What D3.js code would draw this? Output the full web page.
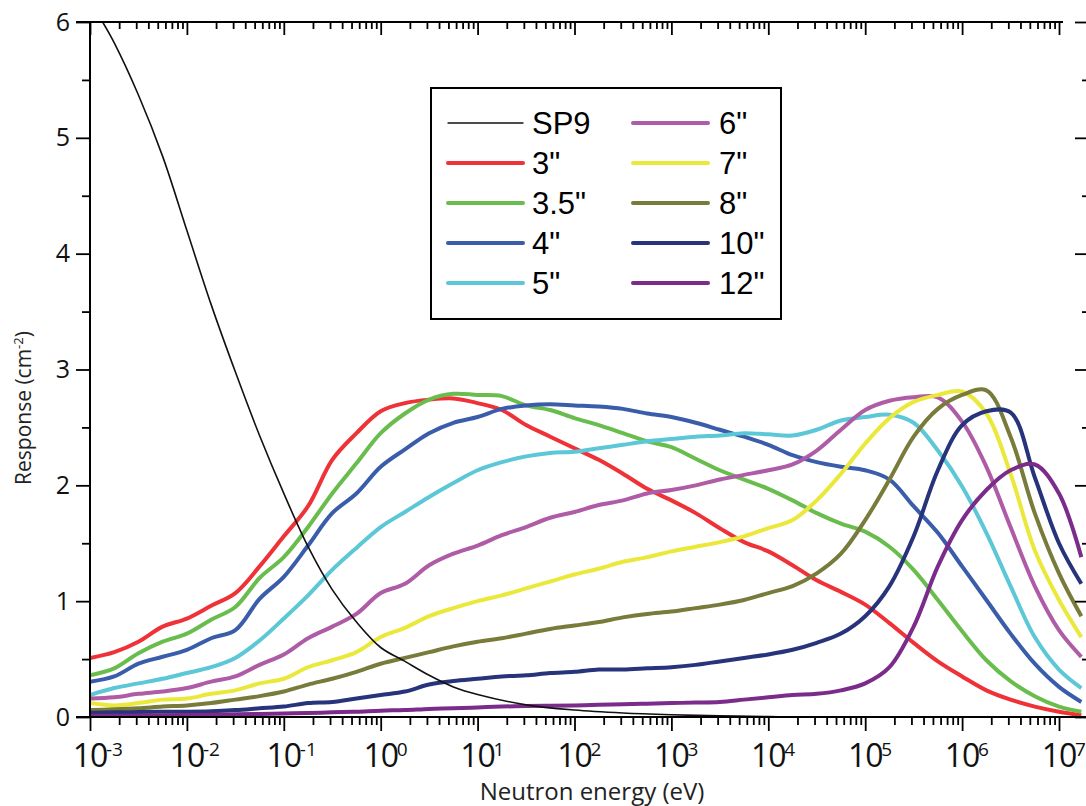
<!DOCTYPE html>
<html>
<head>
<meta charset="utf-8">
<script src="https://cdn.jsdelivr.net/npm/d3@7"></script>
<style>
  body { margin: 0; background: #fff; }
  svg { display: block; }
</style>
</head>
<body>
<div id="container"></div>
<script>
// neutron energy grid (eV) shared by the sphere curves
const energy = [1e-3, 1.78e-3, 3.16e-3, 5.62e-3, 1e-2, 1.78e-2, 3.16e-2, 5.62e-2,
  0.1, 0.178, 0.316, 0.562, 1, 1.78, 3.16, 5.62, 10, 17.8, 31.6, 56.2,
  100, 178, 316, 562, 1e3, 1.78e3, 3.16e3, 5.62e3, 1e4, 1.78e4, 3.16e4, 5.62e4,
  1e5, 1.78e5, 3.16e5, 5.62e5, 1e6, 1.78e6, 3.16e6, 5.62e6, 1e7, 1.7e7];

const r3 = [0.51, 0.56, 0.65, 0.78, 0.85, 0.96, 1.07, 1.30, 1.56, 1.82, 2.22, 2.45, 2.64, 2.71,
  2.74, 2.75, 2.71, 2.65, 2.52, 2.42, 2.32, 2.22, 2.10, 1.97, 1.87, 1.76, 1.63, 1.51,
  1.43, 1.31, 1.18, 1.08, 0.97, 0.81, 0.64, 0.48, 0.35, 0.23, 0.15, 0.09, 0.046, 0.017];
const r35 = [0.36, 0.42, 0.55, 0.65, 0.72, 0.84, 0.95, 1.20, 1.38, 1.64, 1.93, 2.19, 2.45, 2.62,
  2.74, 2.79, 2.78, 2.77, 2.69, 2.65, 2.58, 2.52, 2.45, 2.38, 2.33, 2.23, 2.13, 2.05,
  1.97, 1.87, 1.76, 1.67, 1.60, 1.47, 1.27, 1.01, 0.74, 0.49, 0.31, 0.18, 0.09, 0.046];
const r4 = [0.305, 0.35, 0.46, 0.52, 0.58, 0.68, 0.75, 1.02, 1.21, 1.48, 1.76, 1.93, 2.16, 2.31,
  2.45, 2.54, 2.59, 2.66, 2.69, 2.70, 2.69, 2.68, 2.66, 2.62, 2.59, 2.54, 2.48, 2.42,
  2.35, 2.26, 2.20, 2.16, 2.13, 2.05, 1.82, 1.59, 1.30, 1.01, 0.72, 0.46, 0.26, 0.13];
const r5 = [0.19, 0.25, 0.29, 0.33, 0.38, 0.43, 0.51, 0.66, 0.85, 1.05, 1.27, 1.46, 1.64, 1.77,
  1.90, 2.02, 2.13, 2.20, 2.25, 2.28, 2.29, 2.32, 2.35, 2.38, 2.40, 2.42, 2.43, 2.45,
  2.44, 2.43, 2.48, 2.56, 2.59, 2.61, 2.54, 2.30, 1.99, 1.59, 1.13, 0.69, 0.41, 0.25];
const r6 = [0.16, 0.17, 0.20, 0.22, 0.25, 0.305, 0.35, 0.45, 0.54, 0.68, 0.78, 0.89, 1.07, 1.15,
  1.31, 1.41, 1.48, 1.57, 1.64, 1.72, 1.77, 1.83, 1.87, 1.93, 1.96, 2.00, 2.05, 2.09,
  2.13, 2.18, 2.30, 2.48, 2.65, 2.73, 2.76, 2.76, 2.55, 2.16, 1.64, 1.13, 0.75, 0.52];
const r7 = [0.12, 0.10, 0.12, 0.15, 0.16, 0.20, 0.23, 0.29, 0.33, 0.43, 0.49, 0.56, 0.69, 0.77,
  0.87, 0.94, 1.00, 1.05, 1.11, 1.17, 1.23, 1.28, 1.34, 1.38, 1.43, 1.47, 1.51, 1.56,
  1.63, 1.70, 1.87, 2.10, 2.36, 2.58, 2.72, 2.78, 2.81, 2.62, 2.10, 1.44, 1.01, 0.69];
const r8 = [0.06, 0.066, 0.075, 0.09, 0.10, 0.12, 0.15, 0.18, 0.22, 0.28, 0.33, 0.39, 0.46, 0.51,
  0.56, 0.61, 0.65, 0.68, 0.72, 0.76, 0.79, 0.82, 0.86, 0.89, 0.91, 0.94, 0.97, 1.01,
  1.07, 1.13, 1.24, 1.41, 1.70, 2.05, 2.42, 2.66, 2.78, 2.82, 2.42, 1.76, 1.24, 0.87];
const r10 = [0.037, 0.04, 0.043, 0.045, 0.046, 0.05, 0.06, 0.075, 0.09, 0.12, 0.13, 0.16, 0.19, 0.22,
  0.28, 0.31, 0.33, 0.35, 0.36, 0.38, 0.39, 0.41, 0.41, 0.42, 0.43, 0.45, 0.48, 0.51,
  0.54, 0.58, 0.64, 0.72, 0.87, 1.13, 1.56, 2.13, 2.52, 2.64, 2.63, 2.07, 1.50, 1.15];
const r12 = [0.01, 0.011, 0.012, 0.014, 0.017, 0.02, 0.023, 0.026, 0.03, 0.035, 0.04, 0.046, 0.055, 0.06,
  0.07, 0.075, 0.083, 0.09, 0.095, 0.098, 0.10, 0.105, 0.11, 0.115, 0.12, 0.125, 0.13, 0.15,
  0.17, 0.19, 0.20, 0.23, 0.29, 0.43, 0.78, 1.30, 1.70, 1.96, 2.13, 2.18, 1.93, 1.38];

// bare SP9 detector
const sp9Energy = [1.35e-3, 1.78e-3, 3.16e-3, 5.62e-3, 1e-2, 1.78e-2, 3.16e-2, 5.62e-2,
  0.1, 0.178, 0.316, 0.562, 1, 1.78, 3.16, 5.62, 10, 31.6, 100, 316, 1e3, 3.16e3, 1e4, 2e4];
const sp9 = [6.0, 5.82, 5.37, 4.84, 4.20, 3.56, 2.98, 2.43,
  1.93, 1.47, 1.10, 0.82, 0.60, 0.48, 0.36, 0.26, 0.195, 0.105, 0.06, 0.035, 0.02, 0.01, 0.004, 0.0];

const xMajor = [1e-3, 1e-2, 1e-1, 1, 10, 100, 1e3, 1e4, 1e5, 1e6, 1e7];
const xExp = ["-3", "-2", "-1", "0", "1", "2", "3", "4", "5", "6", "7"];
const yMajor = [0, 1, 2, 3, 4, 5, 6];
const yMinor = [0.5, 1.5, 2.5, 3.5, 4.5, 5.5];

const series = [
  { name: "SP9", x: sp9Energy, y: sp9, color: "#111111", width: 1.6 },
  { name: "3\"", x: energy, y: r3, color: "#ee3238", width: 4 },
  { name: "3.5\"", x: energy, y: r35, color: "#69bd4c", width: 4 },
  { name: "4\"", x: energy, y: r4, color: "#3a5dab", width: 4 },
  { name: "5\"", x: energy, y: r5, color: "#5cc7d6", width: 4 },
  { name: "6\"", x: energy, y: r6, color: "#af5ca6", width: 4 },
  { name: "7\"", x: energy, y: r7, color: "#ebe83c", width: 4 },
  { name: "8\"", x: energy, y: r8, color: "#787b3a", width: 4 },
  { name: "10\"", x: energy, y: r10, color: "#27337a", width: 4 },
  { name: "12\"", x: energy, y: r12, color: "#7b2b8a", width: 4 }
];

const w = 1086, h = 806;
const svg = d3.select("#container").append("svg").attr("width", w).attr("height", h);

const x = d3.scaleLog().domain([1e-3, 1e7]).range([90, 1059]);
const y = d3.scaleLinear().domain([0, 6]).range([717, 22]);
const xMinor = x.ticks(30).filter(d => !xMajor.includes(d));

svg.append("clipPath").attr("id", "plot")
  .append("rect").attr("x", 90).attr("y", 22).attr("width", 996).attr("height", 695);

// curves
const line = d3.line()
  .x(d => x(d[0]))
  .y(d => y(d[1]))
  .curve(d3.curveCatmullRom.alpha(0.5));

svg.append("g").attr("clip-path", "url(#plot)")
  .selectAll("path")
  .data(series.slice(1).concat([series[0]]))
  .enter().append("path")
  .attr("d", s => line(s.x.map((e, i) => [e, s.y[i]])))
  .attr("fill", "none")
  .attr("stroke", s => s.color)
  .attr("stroke-width", s => s.width)
  .attr("stroke-linejoin", "round");

function styleAxis(g) {
  g.selectAll("line").attr("stroke", "#000").attr("stroke-width", 1.8);
  g.selectAll(".domain").remove();
}

// bottom axis
svg.append("g").attr("transform", "translate(0,717)")
  .call(d3.axisBottom(x).tickValues(xMajor).tickSize(14).tickFormat(""))
  .call(styleAxis);
svg.append("g").attr("transform", "translate(0,717)")
  .call(d3.axisBottom(x).tickValues(xMinor).tickSize(8).tickFormat(""))
  .call(styleAxis);
svg.append("line").attr("x1", 76).attr("x2", 1086).attr("y1", 717).attr("y2", 717)
  .attr("stroke", "#000").attr("stroke-width", 2);

// top axis, ticks inward
svg.append("g").attr("transform", "translate(0,22)")
  .call(d3.axisBottom(x).tickValues(xMajor).tickSize(13).tickFormat(""))
  .call(styleAxis);
svg.append("g").attr("transform", "translate(0,22)")
  .call(d3.axisBottom(x).tickValues(xMinor).tickSize(7).tickFormat(""))
  .call(styleAxis);
svg.append("line").attr("x1", 76).attr("x2", 1063).attr("y1", 22).attr("y2", 22)
  .attr("stroke", "#000").attr("stroke-width", 2);

// left axis
const yAxisG = svg.append("g").attr("transform", "translate(90,0)")
  .call(d3.axisLeft(y).tickValues(yMajor).tickSize(14).tickPadding(6).tickFormat(d3.format("d")));
yAxisG.call(styleAxis);
yAxisG.selectAll("text")
  .attr("font-family", "'Open Sans', sans-serif")
  .attr("font-size", 25)
  .attr("fill", "#111");
svg.append("g").attr("transform", "translate(90,0)")
  .call(d3.axisLeft(y).tickValues(yMinor).tickSize(8).tickFormat(""))
  .call(styleAxis);
svg.append("line").attr("x1", 90).attr("x2", 90).attr("y1", 22).attr("y2", 717)
  .attr("stroke", "#000").attr("stroke-width", 2);

// right axis ticks (inward, axis line outside the picture)
svg.append("g").attr("transform", "translate(1087,0)")
  .call(d3.axisLeft(y).tickValues(yMajor).tickSize(12).tickFormat(""))
  .call(styleAxis);
svg.append("g").attr("transform", "translate(1087,0)")
  .call(d3.axisLeft(y).tickValues(yMinor).tickSize(5).tickFormat(""))
  .call(styleAxis);

// x tick labels 10^n
const xl = svg.append("g").selectAll("g").data(xMajor).enter().append("g");
xl.append("text")
  .attr("x", d => x(d))
  .attr("y", 767)
  .attr("text-anchor", "middle")
  .attr("font-family", "'Open Sans', sans-serif")
  .attr("font-size", 32)
  .attr("letter-spacing", -1)
  .attr("fill", "#111")
  .text("10");
xl.append("text")
  .attr("x", d => x(d) + 16)
  .attr("y", 756)
  .attr("font-family", "'Open Sans', sans-serif")
  .attr("font-size", 19)
  .attr("fill", "#111")
  .text((d, i) => xExp[i]);

// axis titles
svg.append("text")
  .attr("x", 592).attr("y", 800)
  .attr("text-anchor", "middle")
  .attr("font-family", "'Open Sans', sans-serif")
  .attr("font-size", 24)
  .attr("fill", "#222")
  .text("Neutron energy (eV)");

const yt = svg.append("text")
  .attr("transform", "translate(31,408) rotate(-90)")
  .attr("text-anchor", "middle")
  .attr("font-family", "'Open Sans', sans-serif")
  .attr("font-size", 21)
  .attr("fill", "#222");
yt.append("tspan").text("Response (cm");
yt.append("tspan").attr("font-size", 13).attr("dy", -8).text("-2");
yt.append("tspan").attr("dy", 8).text(")");

// legend
svg.append("rect")
  .attr("x", 431).attr("y", 88).attr("width", 350).attr("height", 231)
  .attr("fill", "#fff").attr("stroke", "#000").attr("stroke-width", 2);

const leg = svg.append("g").selectAll("g").data(series).enter().append("g")
  .attr("transform", (d, i) => `translate(${i < 5 ? 448 : 633},${123 + (i % 5) * 40})`);
leg.append("line")
  .attr("x1", 0).attr("x2", 75)
  .attr("stroke", d => d.color)
  .attr("stroke-width", d => d.width === 4 ? 4 : 1.4)
  .attr("stroke-linecap", "round");
leg.append("text")
  .attr("x", (d, i) => i < 5 ? 84 : 86)
  .attr("y", 11)
  .attr("font-family", "'Liberation Sans', Arial, sans-serif")
  .attr("font-size", 31)
  .attr("fill", "#000")
  .text(d => d.name);
</script>
</body>
</html>
